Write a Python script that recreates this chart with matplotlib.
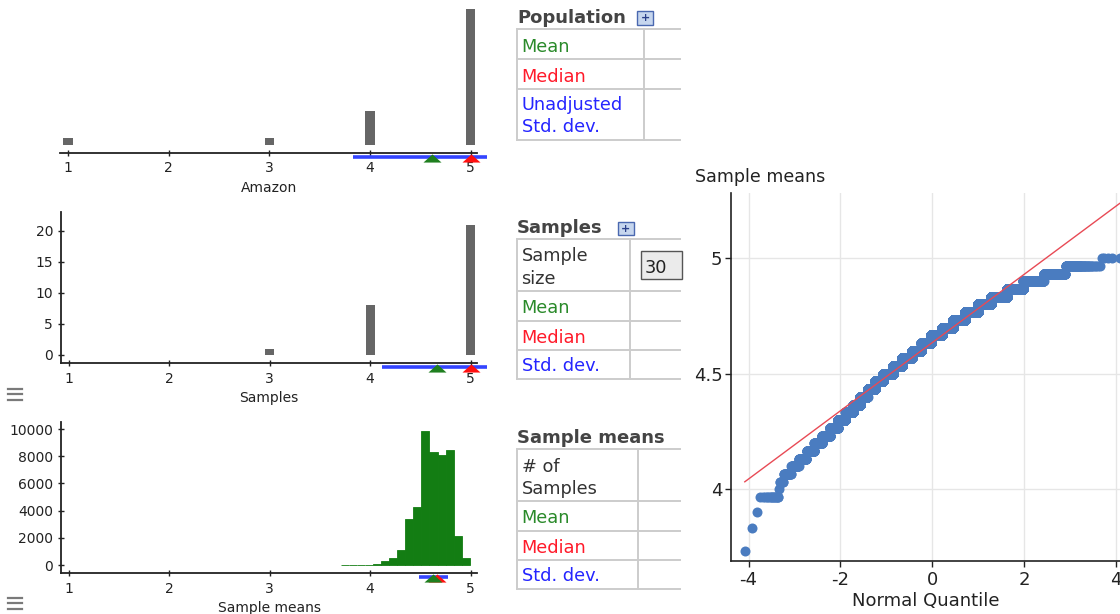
import matplotlib
matplotlib.use("Agg")
import matplotlib.pyplot as plt
import numpy as np
from matplotlib.lines import Line2D
from matplotlib.patches import Rectangle
from matplotlib.path import Path
from matplotlib import transforms
from statistics import NormalDist

plt.rcParams['font.family'] = ['DejaVu Sans']
plt.rcParams['axes.unicode_minus'] = False

W, H = 1120, 614

# ---------------- data ----------------
rating_ticks = [1, 2, 3, 4, 5]
pop_ratings = [1, 3, 4, 5]
pop_counts = [1, 1, 5, 20]
pop_mean, pop_median, pop_std = 4.62, 5.0, 0.79

smp_ratings = [3, 4, 5]
smp_counts = [1, 8, 21]
smp_mean, smp_median, smp_std = 4.667, 5.0, 0.547
smp_yticks = [0, 5, 10, 15, 20]

hist_edges = [3.71, 3.79, 3.87, 3.95, 4.03, 4.11, 4.19, 4.27, 4.35,
              4.43, 4.51, 4.59, 4.67, 4.75, 4.83, 4.91, 4.99]
hist_counts = [1, 1, 1, 16, 62, 300, 540, 1125, 3360, 4265,
               9850, 8290, 8090, 8480, 2160, 540]
means_mean, means_median, means_std = 4.63, 4.667, 0.144
means_yticks = [0, 2000, 4000, 6000, 8000, 10000]

qq_levels = [3.733, 3.767, 3.8, 3.833, 3.867, 3.9, 3.933, 3.967, 4.0, 4.033,
             4.067, 4.1, 4.133, 4.167, 4.2, 4.233, 4.267, 4.3, 4.333, 4.367,
             4.4, 4.433, 4.467, 4.5, 4.533, 4.567, 4.6, 4.633, 4.667, 4.7,
             4.733, 4.767, 4.8, 4.833, 4.867, 4.9, 4.933, 4.967, 5.0]
qq_counts = [1, 0, 0, 1, 0, 1, 0, 15, 1, 7,
             21, 34, 57, 91, 140, 210, 307, 436, 600, 697,
             948, 1270, 1618, 2315, 2688, 3228, 3634, 3821, 4014, 4078,
             4089, 3430, 2736, 2169, 1283, 716, 261, 78, 5]
qq_intercept, qq_slope = 4.635, 0.1475
qq_xticks = [-4, -2, 0, 2, 4]
qq_yticks = [4, 4.5, 5]

GREEN = '#1f7f1f'
HIST_GREEN = '#137d13'
RED = '#ff1010'
BLUE = '#3344ff'
TXT_GREEN = '#2a8a2a'
TXT_RED = '#ff1a2a'
TXT_BLUE = '#2525ff'
GRAY_TXT = '#333333'
LINE_GRAY = '#cccccc'

fig = plt.figure(figsize=(W / 100, H / 100), dpi=100)
fig.patch.set_facecolor('white')


def add_ax(x0, y0, x1, y1):
    return fig.add_axes([x0 / W, 1 - y1 / H, (x1 - x0) / W, (y1 - y0) / H])


def fx(x):
    return x / W


def fy(y):
    return 1 - y / H


tri_path = Path([(-1, -0.45), (1, -0.45), (0, 0.45), (-1, -0.45)],
                [Path.MOVETO, Path.LINETO, Path.LINETO, Path.CLOSEPOLY])


def summary_marks(ax, mean, median, std, line_off, tri_off, ax_h_px):
    tr = transforms.blended_transform_factory(ax.transData, ax.transAxes)
    lo = mean - std
    hi = min(mean + std, 5.16)
    yl = -line_off / ax_h_px
    yt = -tri_off / ax_h_px
    ax.plot([lo, hi], [yl, yl], color=BLUE, lw=2.6, transform=tr,
            clip_on=False, solid_capstyle='butt', zorder=5)
    ax.plot([median], [yt], marker=tri_path, ms=13, color=RED, lw=0,
            transform=tr, clip_on=False, zorder=6, markeredgewidth=0)
    ax.plot([mean], [yt], marker=tri_path, ms=13, color=GREEN, lw=0,
            transform=tr, clip_on=False, zorder=7, markeredgewidth=0)


def style_left(ax, show_y):
    for s in ['top', 'right']:
        ax.spines[s].set_visible(False)
    ax.spines['bottom'].set_color('#222222')
    ax.spines['bottom'].set_linewidth(1.3)
    if show_y:
        ax.spines['left'].set_color('#222222')
        ax.spines['left'].set_linewidth(1.3)
    else:
        ax.spines['left'].set_visible(False)
        ax.set_yticks([])
    ax.tick_params(axis='both', direction='inout', length=5, width=1,
                   color='#222222', labelsize=10, labelcolor='#222222')
    ax.tick_params(axis='x', pad=3.5)
    ax.tick_params(axis='y', pad=3)
    ax.set_xticks(rating_ticks)
    ax.set_xlim(0.9205, 5.066)
    ax.patch.set_alpha(0)


# ---------------- top: population ----------------
ax1 = add_ax(60, 5, 477.3, 153)
ax1.bar(pop_ratings, pop_counts, width=0.09, color='#666666', zorder=2)
ax1.set_ylim(-1.18, 20.6)
style_left(ax1, False)
ax1.set_xlabel('Amazon', fontsize=10, color='#222222', labelpad=4)
summary_marks(ax1, pop_mean, pop_median, pop_std, 4, 5, 148)

# ---------------- middle: samples ----------------
ax2 = add_ax(60.7, 212, 477.3, 363.3)
ax2.bar(smp_ratings, smp_counts, width=0.09, color='#666666', zorder=2)
ax2.set_ylim(-1.39, 23.07)
style_left(ax2, True)
ax2.set_yticks(smp_yticks)
ax2.set_xlabel('Samples', fontsize=10, color='#222222', labelpad=4)
summary_marks(ax2, smp_mean, smp_median, smp_std, 4, 4.7, 151.3)

# ---------------- bottom: sample means ----------------
ax3 = add_ax(60.7, 421.7, 477.3, 573.3)
ax3.hist(hist_edges[:-1], bins=hist_edges, weights=hist_counts,
         color=HIST_GREEN, edgecolor=HIST_GREEN, linewidth=0.6, zorder=2)
ax3.set_ylim(-610, 10537)
style_left(ax3, True)
ax3.set_yticks(means_yticks)
ax3.set_xlabel('Sample means', fontsize=10, color='#222222', labelpad=4)
summary_marks(ax3, means_mean, means_median, means_std, 3.4, 4.7, 151.6)

# hamburger icons
for ys in ([388.5, 394, 399.5], [597.5, 603.3, 609]):
    for y in ys:
        fig.add_artist(Line2D([fx(7.5), fx(22)], [fy(y), fy(y)],
                              color='#7a7a7a', lw=1.6))

# ---------------- tables ----------------


def hline(x0, x1, y):
    fig.add_artist(Line2D([fx(x0), fx(x1)], [fy(y), fy(y)],
                          color=LINE_GRAY, lw=1.4))


def vline(x, y0, y1):
    fig.add_artist(Line2D([fx(x), fx(x)], [fy(y0), fy(y1)],
                          color=LINE_GRAY, lw=1.4))


def ttext(x, y, s, color, bold=False, size=12.8):
    fig.text(fx(x), fy(y), s, color=color, fontsize=size,
             fontweight='bold' if bold else 'normal', va='baseline',
             ha='left')


def plus_icon(x0, y0):
    fig.add_artist(Rectangle((fx(x0), fy(y0 + 13)), 16 / W, 13 / H,
                             facecolor='#c6d6ee', edgecolor='#4a68b0',
                             lw=1.0, transform=fig.transFigure))
    fig.text(fx(x0 + 8), fy(y0 + 6.8), '+', color='#2a3f8a', fontsize=8,
             ha='center', va='center', fontweight='bold')


TL, TR = 517.3, 680

# Population table
ttext(517, 23, 'Population', '#444444', bold=True, size=13)
plus_icon(637, 11.5)
for y in [29.3, 59.3, 88.7, 140]:
    hline(TL, TR, y)
vline(TL, 29.3, 140)
vline(644.3, 29.3, 140)
ttext(521.5, 52.5, 'Mean', TXT_GREEN)
ttext(521.5, 81.5, 'Median', TXT_RED)
ttext(521.5, 109.5, 'Unadjusted', TXT_BLUE)
ttext(521.5, 132.5, 'Std. dev.', TXT_BLUE)

# Samples table
ttext(517, 233, 'Samples', '#444444', bold=True, size=13)
plus_icon(617.5, 222)
for y in [239.3, 290.7, 320.7, 350, 379.3]:
    hline(TL, TR, y)
vline(TL, 239.3, 379.3)
vline(630, 239.3, 379.3)
ttext(521.5, 261.3, 'Sample', GRAY_TXT)
ttext(521.5, 284.3, 'size', GRAY_TXT)
fig.add_artist(Rectangle((fx(641), fy(279.3)), (TR + 2 - 641) / W,
                         (279.3 - 250.7) / H, facecolor='#ebebeb',
                         edgecolor='#555555', lw=1.0,
                         transform=fig.transFigure))
ttext(644.5, 273, '30', '#222222')
ttext(521.5, 313.3, 'Mean', TXT_GREEN)
ttext(521.5, 342.7, 'Median', TXT_RED)
ttext(521.5, 371.0, 'Std. dev.', TXT_BLUE)

# Sample means table
ttext(517, 443, 'Sample means', '#444444', bold=True, size=13)
for y in [449.3, 501, 531, 560, 589.3]:
    hline(TL, TR, y)
vline(TL, 449.3, 589.3)
vline(637.7, 449.3, 589.3)
ttext(521.5, 471.5, '# of', GRAY_TXT)
ttext(521.5, 494.5, 'Samples', GRAY_TXT)
ttext(521.5, 523.3, 'Mean', TXT_GREEN)
ttext(521.5, 552.7, 'Median', TXT_RED)
ttext(521.5, 581.3, 'Std. dev.', TXT_BLUE)

# ---------------- QQ plot ----------------
ax4 = add_ax(730.7, 193.3, 1120, 561)
vals = np.repeat(np.array(qq_levels), np.array(qq_counts))
n = len(vals)
nd = NormalDist()
qs = np.array([nd.inv_cdf(i / (n + 1)) for i in range(1, n + 1)])
ax4.plot(qs, vals, 'o', ms=7.2, color='#4a7cc0', markeredgewidth=0,
         zorder=3)
lx = np.array([qs[0], qs[-1]])
ax4.plot(lx, qq_intercept + qq_slope * lx, color='#e84a55', lw=1.0,
         zorder=4)
ax4.set_xlim(-4.39, 4.09)
ax4.set_ylim(3.69, 5.281)
ax4.set_xticks(qq_xticks)
ax4.set_yticks(qq_yticks)
ax4.set_yticklabels(['4', '4.5', '5'])
ax4.grid(True, color='#e6e6e6', lw=1.0, zorder=0)
ax4.set_axisbelow(True)
for s in ['top', 'right']:
    ax4.spines[s].set_visible(False)
for s in ['left', 'bottom']:
    ax4.spines[s].set_color('#222222')
    ax4.spines[s].set_linewidth(1.2)
ax4.tick_params(axis='both', direction='out', length=4, width=1,
                color='#222222', labelsize=13, labelcolor='#222222')
ax4.tick_params(axis='x', pad=3)
ax4.tick_params(axis='y', pad=2)
ax4.set_xlabel('Normal Quantile', fontsize=13, color='#222222', labelpad=2)
fig.text(fx(695), fy(182.5), 'Sample means', fontsize=12.6,
         color='#222222', ha='left', va='baseline')

fig.savefig('out.png', dpi=100, facecolor='white')
